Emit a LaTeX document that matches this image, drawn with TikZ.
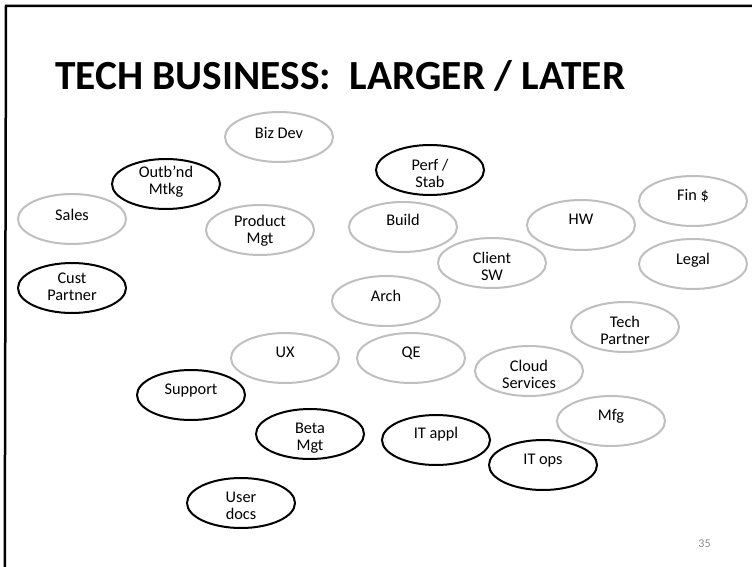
\documentclass[tikz,border=0pt]{standalone}
\usepackage{fontspec}
\setmainfont{Carlito}
\usetikzlibrary{shapes.geometric}
\definecolor{lightring}{HTML}{BFBFBF}
\definecolor{pagenum}{HTML}{8C8C8C}
\tikzset{
  ring/.style={ellipse, minimum width=108pt, minimum height=50pt, inner sep=0pt, line width=2pt},
  grayring/.style={ring, draw=lightring},
  blackring/.style={ring, draw=black},
  txt/.style={inner sep=0pt, font=\fontsize{16.3}{17.7}\selectfont, anchor=base},
  frameline/.style={line width=2.5pt, black}
}
\newcommand\bub[6]{%
  \node[#4] (#1) at (#2,#3) {};
  \node[txt] (#1-t) at (#2,#5) {\begin{tabular}[t]{@{}c@{}}#6\end{tabular}};
}
\begin{document}
\begin{tikzpicture}[x=1pt,y=-1pt]
\useasboundingbox (0,0) rectangle (752,567);
\coordinate (fa) at (4.75,567);
\coordinate (fb) at (6,6);
\coordinate (fc) at (752,6);
\draw[frameline] (fa) -- (fb) -- (fc);

\node[anchor=base west, inner sep=0pt, font=\fontsize{41.4}{45}\selectfont\bfseries] (title) at (55,90) {TECH BUSINESS:\ \ LARGER / LATER};

\bub{biz}{279}{137}{grayring}{139}{Biz Dev}
\bub{outb}{166}{184}{blackring}{177}{Outb’nd\\Mtkg}
\bub{sales}{72}{219}{grayring}{220}{Sales}
\bub{prod}{260}{230}{grayring}{226}{Product\\Mgt}
\bub{cust}{72}{288}{blackring}{283}{Cust\\Partner}
\bub{perf}{430}{170}{blackring}{170}{Perf /\\Stab}
\bub{build}{403}{227}{grayring}{225}{Build}
\bub{hw}{581}{225}{grayring}{224}{HW}
\bub{fin}{693}{201}{grayring}{200}{Fin \$}
\bub{client}{492}{263}{grayring}{263}{Client\\SW}
\bub{legal}{693}{264}{grayring}{264}{Legal}
\bub{arch}{386}{301}{grayring}{301}{Arch}
\bub{ux}{285}{358}{grayring}{357}{UX}
\bub{qe}{411}{358}{grayring}{357}{QE}
\bub{tech}{625}{327}{grayring}{327}{Tech\\Partner}
\bub{cloud}{529}{371}{grayring}{371}{Cloud\\Services}
\bub{support}{191}{395}{blackring}{394}{Support}
\bub{mfg}{611}{421}{grayring}{420}{Mfg}
\bub{beta}{310}{434}{blackring}{433}{Beta\\Mgt}
\bub{itappl}{436}{440}{blackring}{438}{IT appl}
\bub{itops}{543}{465}{blackring}{464}{IT ops}
\bub{userdocs}{241}{503}{blackring}{502}{User\\docs}

\node[anchor=base, inner sep=0pt, text=pagenum, font=\fontsize{12}{14}\selectfont] (pnum) at (704.5,547.5) {35};
\end{tikzpicture}
\end{document}
